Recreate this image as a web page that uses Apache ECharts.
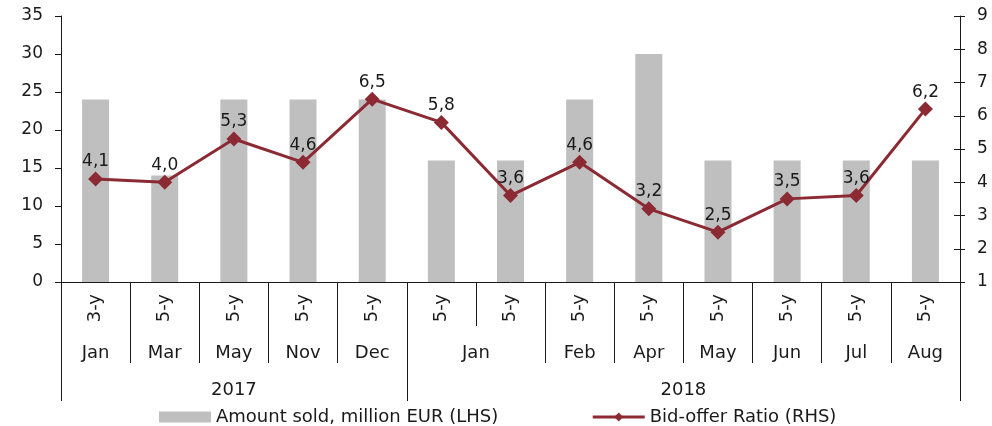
<!DOCTYPE html>
<html>
<head>
<meta charset="utf-8">
<script src="https://cdn.jsdelivr.net/npm/echarts@6/dist/echarts.min.js"></script>
<style>
  html, body { margin: 0; padding: 0; background: #fff; }
  #chart { width: 992px; height: 426px; }
</style>
</head>
<body>
<div id="chart"></div>
<script>
// Auction tenors, one per auction
const tenors = ['3-y', '5-y', '5-y', '5-y', '5-y', '5-y', '5-y', '5-y', '5-y', '5-y', '5-y', '5-y', '5-y'];
// Month groups and how many auctions each covers
const monthLabels = ['Jan', 'Mar', 'May', 'Nov', 'Dec', 'Jan', 'Feb', 'Apr', 'May', 'Jun', 'Jul', 'Aug'];
const monthSpans = [1, 1, 1, 1, 1, 2, 1, 1, 1, 1, 1, 1];
// Year groups and how many auctions each covers
const yearLabels = ['2017', '2018'];
const yearSpans = [5, 8];
// Amount sold, million EUR (left axis)
const amountSold = [24, 14, 24, 24, 24, 16, 16, 24, 30, 16, 16, 16, 16];
// Bid-offer ratio (right axis)
const bidOffer = [4.1, 4.0, 5.3, 4.6, 6.5, 5.8, 3.6, 4.6, 3.2, 2.5, 3.5, 3.6, 6.2];
// Axis ranges
const leftAxis = { min: 0, max: 35, interval: 5 };
const rightAxis = { min: 1, max: 9, interval: 1 };

const FONT = 'DejaVu Sans';
const INK = '#1a1a1a';
const NUM_SIZE = 17;
const TEXT_SIZE = 18;
const RED = '#8b2a33';

// Build group boundaries and centres for the lower label rows
function groups(labels, spans) {
  const edges = [0];
  const centres = [];
  const names = {};
  let pos = 0;
  spans.forEach((s, i) => {
    const c = pos + s / 2;
    centres.push(c);
    names[String(c)] = labels[i];
    pos += s;
    edges.push(pos);
  });
  return { edges, centres, names };
}
const monthRow = groups(monthLabels, monthSpans);
const yearRow = groups(yearLabels, yearSpans);
const n = tenors.length;

function groupAxis(row, tickLen, labelMargin) {
  return {
    type: 'value',
    gridIndex: 0,
    position: 'bottom',
    min: 0,
    max: n,
    axisLine: { show: false, onZero: false },
    splitLine: { show: false },
    axisTick: {
      show: true,
      customValues: row.edges,
      length: tickLen,
      lineStyle: { color: INK, width: 1 }
    },
    axisLabel: {
      show: true,
      customValues: row.centres,
      margin: labelMargin,
      fontFamily: FONT,
      fontSize: TEXT_SIZE,
      color: INK,
      formatter: v => row.names[String(v)] || ''
    }
  };
}

const gridBox = { left: 61, right: 32, top: 16, bottom: 144, containLabel: false };

const chart = echarts.init(document.getElementById('chart'));
chart.setOption({
  animation: false,
  textStyle: { fontFamily: FONT, fontSize: TEXT_SIZE, color: INK },
  grid: [Object.assign({}, gridBox), Object.assign({}, gridBox)],
  legend: {
    left: 154,
    top: 403,
    itemWidth: 52,
    itemHeight: 11,
    itemGap: 93,
    textStyle: { fontFamily: FONT, fontSize: TEXT_SIZE, color: INK },
    data: [
      { name: 'Amount sold, million EUR (LHS)', icon: 'rect' },
      { name: 'Bid-offer Ratio (RHS)', lineStyle: { width: 3, color: RED } }
    ]
  },
  xAxis: [
    {
      type: 'category',
      gridIndex: 0,
      data: tenors,
      boundaryGap: true,
      axisLine: { show: true, onZero: false, lineStyle: { color: INK, width: 1 } },
      axisTick: { show: true, length: 44, interval: 0, lineStyle: { color: INK, width: 1 } },
      axisLabel: {
        interval: 0,
        rotate: 90,
        margin: 12,
        fontFamily: FONT,
        fontSize: TEXT_SIZE,
        color: INK
      }
    },
    groupAxis(monthRow, 81, 62),
    groupAxis(yearRow, 119, 99),
    {
      // placeholder axis for the overlay grid that carries the inner right ticks
      type: 'category',
      gridIndex: 1,
      data: tenors,
      show: false
    }
  ],
  yAxis: [
    {
      type: 'value',
      gridIndex: 0,
      position: 'left',
      min: leftAxis.min, max: leftAxis.max, interval: leftAxis.interval,
      axisLine: { show: true, onZero: false, lineStyle: { color: INK, width: 1 } },
      axisTick: { show: true, length: 6, lineStyle: { color: INK } },
      splitLine: { show: false },
      axisLabel: { margin: 18, fontFamily: FONT, fontSize: NUM_SIZE, color: INK }
    },
    {
      type: 'value',
      gridIndex: 0,
      position: 'right',
      min: rightAxis.min, max: rightAxis.max, interval: rightAxis.interval,
      axisLine: { show: true, onZero: false, lineStyle: { color: INK, width: 1 } },
      axisTick: { show: true, length: 5, lineStyle: { color: INK } },
      splitLine: { show: false },
      axisLabel: { margin: 17, fontFamily: FONT, fontSize: NUM_SIZE, color: INK }
    },
    {
      // inner half of the crossing ticks on the right axis
      type: 'value',
      gridIndex: 1,
      position: 'right',
      min: rightAxis.min, max: rightAxis.max, interval: rightAxis.interval,
      axisLine: { show: false, onZero: false },
      axisTick: { show: true, inside: true, length: 6, lineStyle: { color: INK } },
      splitLine: { show: false },
      axisLabel: { show: false }
    }
  ],
  series: [
    {
      name: 'Amount sold, million EUR (LHS)',
      type: 'bar',
      xAxisIndex: 0,
      yAxisIndex: 0,
      data: amountSold,
      barWidth: 27,
      itemStyle: { color: '#bfbfbf' }
    },
    {
      name: 'Bid-offer Ratio (RHS)',
      type: 'line',
      xAxisIndex: 0,
      yAxisIndex: 1,
      data: bidOffer,
      symbol: 'diamond',
      symbolSize: 15,
      lineStyle: { color: RED, width: 3 },
      itemStyle: { color: RED },
      z: 5,
      label: {
        show: true,
        position: 'top',
        distance: 1,
        fontFamily: FONT,
        fontSize: NUM_SIZE,
        color: INK,
        formatter: p => p.value.toFixed(1).replace('.', ',')
      }
    }
  ]
});
</script>
</body>
</html>
